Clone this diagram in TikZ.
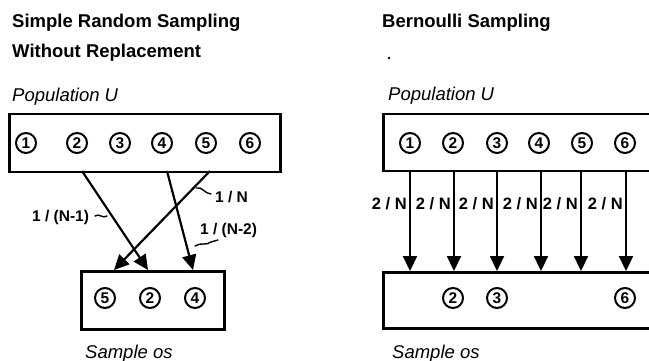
\documentclass[tikz,border=0pt]{standalone}
\usepackage{fontspec}
\setmainfont{Liberation Sans}
\usetikzlibrary{arrows.meta,calc}
\begin{document}
\begin{tikzpicture}[x=1pt,y=-1pt,
  heading/.style={font=\fontsize{18.5}{20}\selectfont\bfseries, anchor=base west, inner sep=0},
  caption/.style={font=\fontsize{18.5}{20}\selectfont\itshape, anchor=base west, inner sep=0},
  frame/.style={draw, line width=2.5pt, inner sep=0, anchor=north west},
  unit/.style={circle, draw, line width=2pt, minimum size=20pt, inner sep=0,
               font=\fontsize{15.5}{15.5}\selectfont\bfseries},
  draws/.style={-{Triangle[length=15pt,width=14pt]}, line width=2.2pt},
  prob/.style={font=\fontsize{15.5}{16}\selectfont\bfseries, anchor=base west, inner sep=0},
  rprob/.style={font=\fontsize{16.5}{17}\selectfont\bfseries, anchor=base east, inner sep=0},
  leader/.style={line width=1.4pt, line cap=round},
]
\clip (0,0) rectangle (649,361);

% ---------- left: simple random sampling without replacement ----------
\node[heading] (tl1) at (12,28) {Simple Random Sampling};
\node[heading] (tl2) at (12,58) {Without Replacement};
\node[caption] (popLtxt) at (12,102) {Population U};

\node[frame, minimum width=271pt, minimum height=58pt] (popL) at (8,113) {};
\foreach \i/\x in {1/26,2/77,3/120,4/162,5/206,6/250}
  \node[unit] (u\i) at (\x,143) {\i};

\node[frame, minimum width=143pt, minimum height=58pt] (sampL) at (80,270) {};
\node[unit] (s5) at (105,298) {5};
\node[unit] (s2) at (150,298) {2};
\node[unit] (s4) at (195,298) {4};
\node[caption] (sampLtxt) at (85,358) {Sample os};

% draw positions on the two frames
\coordinate (d2a) at (82,171);  \coordinate (d2b) at (148,270);
\coordinate (d4a) at (167,171); \coordinate (d4b) at (193,270);
\coordinate (d5a) at (210,171); \coordinate (d5b) at (114,270);
\draw[draws] (d2a) -- (d2b);
\draw[draws] (d4a) -- (d4b);
\draw[draws] (d5a) -- (d5b);

\node[prob] (pN)  at (215,203) {1 / N};
\node[prob] (pN1) at (32,222) {1 / (N-1)};
\node[prob] (pN2) at (200,234) {1 / (N-2)};
\coordinate (kN0) at (196,188);  \coordinate (kN1) at (211,194);
\coordinate (kA0) at (95,216);   \coordinate (kA1) at (107,216);
\coordinate (kB0) at (195,246);  \coordinate (kB1) at (218,240);
\draw[leader] (kN0) .. controls (202,186) and (205,194) .. (kN1);
\draw[leader] (kA0) .. controls (99,213) and (103,219) .. (kA1);
\draw[leader] (kB0) .. controls (201,242) and (206,246) .. (211,242) -- (kB1);

% ---------- right: Bernoulli sampling ----------
\node[heading] (tr) at (382,28) {Bernoulli Sampling};
\fill (389,58) circle (1.3);
\node[caption] (popRtxt) at (388,101) {Population U};

\node[frame, minimum width=300pt, minimum height=57pt] (popR) at (382,113) {};
\foreach \i/\x in {1/410,2/453,3/497,4/539,5/582,6/625}
  \node[unit] (v\i) at (\x,143) {\i};

\node[frame, minimum width=300pt, minimum height=56pt] (sampR) at (382,271) {};
\node[unit] (w2) at (453,298) {2};
\node[unit] (w3) at (497,298) {3};
\node[unit] (w6) at (625,298) {6};
\node[caption] (sampRtxt) at (392,358) {Sample os};

\foreach \x in {410,454,497,541,581,626}{
  \coordinate (ra\x) at (\x,170);
  \coordinate (rb\x) at (\x,271);
  \draw[draws] (ra\x) -- (rb\x);
  \node[rprob] at (\x-3,209) {2 / N};
}
\end{tikzpicture}
\end{document}
